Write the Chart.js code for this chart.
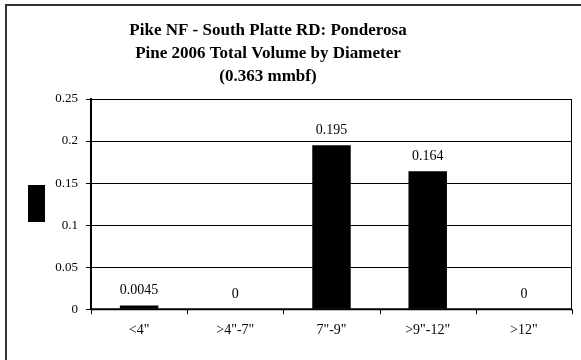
<!DOCTYPE html>
<html><head><meta charset="utf-8">
<script src="https://cdn.jsdelivr.net/npm/chart.js@4/dist/chart.umd.min.js"></script>
<style>
html,body{margin:0;padding:0;background:#fff;}
#wrap{position:relative;width:581px;height:360px;}
#frame{position:absolute;left:5px;top:4px;width:576px;height:356px;border-left:2px solid #333;border-top:2px solid #333;box-sizing:border-box;pointer-events:none;}
canvas{position:absolute;left:0;top:0;}
</style></head>
<body><div id="wrap"><canvas id="c" width="581" height="360"></canvas><div id="frame"></div></div>
<script>
const titleLines = ['Pike NF - South Platte RD: Ponderosa', 'Pine 2006 Total Volume by Diameter', '(0.363 mmbf)'];
const categories = ['<4"', '>4"-7"', '7"-9"', '>9"-12"', '>12"'];
const volumes = [0.0045, 0, 0.195, 0.164, 0];
const valueLabels = ['0.0045', '0', '0.195', '0.164', '0'];
const yTicks = [0, 0.05, 0.1, 0.15, 0.2, 0.25];
const yTitle = 'mmbf';
const FONT = '"Liberation Serif", "Times New Roman", serif';

const extras = {
  id: 'extras',
  afterDraw(chart) {
    const ctx = chart.ctx;
    const ca = chart.chartArea;
    const x = chart.scales.x, y = chart.scales.y;
    ctx.save();
    // title
    ctx.fillStyle = '#000';
    ctx.font = 'bold 17px ' + FONT;
    ctx.textAlign = 'center';
    ctx.textBaseline = 'middle';
    titleLines.forEach((t, i) => ctx.fillText(t, 268, 31 + i * 23));
    // plot border
    ctx.strokeStyle = '#000';
    ctx.lineWidth = 1;
    ctx.beginPath();
    ctx.moveTo(ca.left, ca.top + 0.5); ctx.lineTo(ca.right - 0.5, ca.top + 0.5); ctx.lineTo(ca.right - 0.5, ca.bottom);
    ctx.stroke();
    // x-axis line and tick marks at boundaries
    ctx.lineWidth = 2;
    ctx.beginPath();
    ctx.moveTo(ca.left, ca.bottom); ctx.lineTo(ca.right, ca.bottom);
    ctx.stroke();
    ctx.lineWidth = 1;
    const n = categories.length;
    const w = (ca.right - ca.left) / n;
    ctx.beginPath();
    for (let i = 0; i <= n; i++) {
      const xx = Math.round(ca.left + i * w) + 0.5;
      ctx.moveTo(xx, ca.bottom); ctx.lineTo(xx, ca.bottom + 5);
    }
    ctx.stroke();
    // value labels
    ctx.font = '14px ' + FONT;
    ctx.textBaseline = 'alphabetic';
    volumes.forEach((v, i) => {
      const px = x.getPixelForValue(i);
      const py = y.getPixelForValue(v);
      ctx.fillText(valueLabels[i], px, py - 11);
    });
    // y title block
    ctx.fillStyle = '#000';
    ctx.fillRect(28, 185, 17, 37);
    ctx.translate(36, 203);
    ctx.rotate(-Math.PI / 2);
    ctx.font = 'bold 13px ' + FONT;
    ctx.textBaseline = 'middle';
    ctx.fillText(yTitle, 0, 0);
    ctx.restore();
  }
};

new Chart(document.getElementById('c'), {
  type: 'bar',
  data: {
    labels: categories,
    datasets: [{
      data: volumes,
      backgroundColor: '#000',
      borderWidth: 0,
      barPercentage: 0.4,
      categoryPercentage: 1
    }]
  },
  options: {
    responsive: false,
    animation: false,
    events: [],
    layout: { padding: { top: 99, left: 0, right: 9, bottom: 8 } },
    plugins: { legend: { display: false }, tooltip: { enabled: false }, title: { display: false } },
    scales: {
      x: {
        grid: { display: false, drawTicks: false },
        border: { display: false },
        ticks: { color: '#000', font: { family: FONT, size: 14 }, padding: 13, maxRotation: 0 }
      },
      y: {
        min: 0, max: 0.25,
        afterBuildTicks(axis) { axis.ticks = yTicks.map(v => ({ value: v })); },
        afterFit(axis) { axis.width = 91; },
        grid: { color: '#000', lineWidth: 1, drawTicks: true, tickLength: 5 },
        border: { display: true, color: '#000', width: 2 },
        ticks: { color: '#000', font: { family: FONT, size: 13 }, padding: 8, callback: v => String(v) }
      }
    }
  },
  plugins: [extras]
});
</script></body></html>
